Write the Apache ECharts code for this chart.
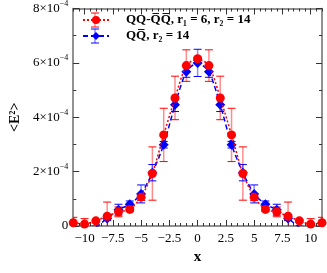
<!DOCTYPE html>
<html><head><meta charset="utf-8">
<script src="https://cdn.jsdelivr.net/npm/echarts@6/dist/echarts.min.js"></script>
<style>html,body{margin:0;padding:0;background:#fff}#c{width:327px;height:273px}</style>
</head><body><div id="c"></div>
<script>
// values are in units of 1e-4
const xs = [-11,-10,-9,-8,-7,-6,-5,-4,-3,-2,-1,0,1,2,3,4,5,6,7,8,9,10,11];
const redVals = [0.12,0.07,0.19,0.36,0.52,0.61,1.06,1.93,3.35,4.71,5.90,6.15,5.90,4.71,3.35,1.93,1.06,0.61,0.52,0.36,0.19,0.07,0.12];
const redErrs = [0.20,0.20,0.05,0.52,0.18,0.08,0.12,0.98,0.98,0.80,0.58,0.06,0.58,0.80,0.98,0.98,0.12,0.08,0.18,0.52,0.05,0.20,0.20];
const blueXs = [-9,-8,-7,-6,-5,-4,-3,-2,-1,0,1,2,3,4,5,6,7,8,9];
const blueVals = [-0.05,0.28,0.60,0.80,1.18,1.96,2.99,4.46,5.67,6.00,5.67,4.46,2.99,1.96,1.18,0.80,0.60,0.28,-0.05];
const blueErrs = [0.05,0.08,0.20,0.12,0.33,0.30,0.12,0.25,0.20,0.50,0.20,0.25,0.12,0.30,0.33,0.12,0.20,0.08,0.05];
const xMajorTicks = [-10,-7.5,-5,-2.5,0,2.5,5,7.5,10];
const yTicks = [0,2,4,6,8];
const expo = '−4';
const redName = 'QQ-Q\u0305Q\u0305, r\u2081 = 6, r\u2082 = 14';
const blueName = 'QQ\u0305, r\u2082 = 14';

const FONT = '"Liberation Serif","DejaVu Serif",serif';
const xMinor = [];
for (let v = -11; v <= 11.001; v += 0.5) xMinor.push(+v.toFixed(1));
const yMinor = [];
for (let v = 0; v <= 8; v += 1) yMinor.push(v);

const chart = echarts.init(document.getElementById('c'), null, {renderer:'canvas'});
const axisCol = '#8a8a8a';
function xAx(extra){ return Object.assign({
  type:'value', min:-11, max:11, gridIndex:0,
  axisLine:{show:true, onZero:false, lineStyle:{color:axisCol, width:1.5}},
  splitLine:{show:false}, axisLabel:{show:false}, axisTick:{show:false}
}, extra); }
function yAx(extra){ return Object.assign({
  type:'value', min:0, max:8, gridIndex:0,
  axisLine:{show:true, onZero:false, lineStyle:{color:axisCol, width:1.5}},
  splitLine:{show:false}, axisLabel:{show:false}, axisTick:{show:false}
}, extra); }

function errItem(colorStem, colorCap){
  return function(params, api){
    const x = api.value(0), lo = api.value(1), hi = api.value(2);
    const p1 = api.coord([x, hi]), p2 = api.coord([x, lo]);
    const w = 4;
    return {type:'group', children:[
      {type:'line', shape:{x1:p1[0], y1:p1[1], x2:p2[0], y2:p2[1]}, style:{stroke:colorStem, lineWidth:1.5}},
      {type:'line', shape:{x1:p1[0]-w, y1:p1[1], x2:p1[0]+w, y2:p1[1]}, style:{stroke:colorCap, lineWidth:1}},
      {type:'line', shape:{x1:p2[0]-w, y1:p2[1], x2:p2[0]+w, y2:p2[1]}, style:{stroke:colorCap, lineWidth:1}}
    ]};
  };
}

const redPts = xs.map((x,i)=>[x, redVals[i]]);
const bluePts = blueXs.map((x,i)=>[x, blueVals[i]]);
const redErrData = xs.map((x,i)=>[x, redVals[i]-redErrs[i], redVals[i]+redErrs[i]]);
const blueErrData = blueXs.map((x,i)=>[x, blueVals[i]-blueErrs[i], blueVals[i]+blueErrs[i]]);

const LX = 95, R1 = 20, R2 = 36;
const option = {
  animation:false,
  grid:{left:59, right:5, top:4, bottom:47, containLabel:false},
  xAxis:[
    xAx({position:'bottom', name:'x', nameLocation:'middle', nameGap:24,
      nameTextStyle:{fontFamily:FONT, fontWeight:'bold', fontSize:15, color:'#000'},
      axisLabel:{show:true, customValues:xMajorTicks, fontFamily:FONT, fontSize:13, color:'#000', margin:6,
        formatter:v=> String(v).replace('-', '−')},
      axisTick:{show:true, inside:true, length:6, customValues:xMajorTicks, lineStyle:{color:'#333'}}}),
    xAx({position:'bottom', axisTick:{show:true, inside:true, length:3, customValues:xMinor, lineStyle:{color:'#333'}}}),
    xAx({position:'top', axisTick:{show:true, inside:true, length:6, customValues:xMajorTicks, lineStyle:{color:'#333'}}}),
    xAx({position:'top', axisTick:{show:true, inside:true, length:3, customValues:xMinor, lineStyle:{color:'#333'}}})
  ],
  yAxis:[
    yAx({position:'left', name:'<E²>', nameLocation:'middle', nameGap:46,
      nameTextStyle:{fontFamily:FONT, fontWeight:'bold', fontSize:14, color:'#000'},
      axisLabel:{show:true, customValues:yTicks, margin:5, color:'#000',
        formatter:v=> v===0 ? '{a|0}' : '{a|'+v+'×10}{s|'+expo+'}',
        rich:{a:{fontFamily:FONT, fontSize:13, color:'#000'}, s:{fontFamily:FONT, fontSize:8, color:'#000', verticalAlign:'top', padding:[0,0,9,0]}}},
      axisTick:{show:true, inside:true, length:6, customValues:yTicks, lineStyle:{color:'#333'}}}),
    yAx({position:'left', axisTick:{show:true, inside:true, length:3, customValues:yMinor, lineStyle:{color:'#333'}}}),
    yAx({position:'right', axisTick:{show:true, inside:true, length:6, customValues:yTicks, lineStyle:{color:'#333'}}}),
    yAx({position:'right', axisTick:{show:true, inside:true, length:3, customValues:yMinor, lineStyle:{color:'#333'}}})
  ],
  legend:{
    orient:'vertical', left:82, top:12, itemWidth:26, itemHeight:10, itemGap:0, padding:0,
    data:[redName, blueName],
    textStyle:{fontFamily:FONT, fontWeight:'bold', fontSize:13, color:'#000', lineHeight:16, padding:[0,0,0,12]}
  },
  graphic:[
    {type:'line', shape:{x1:LX,y1:R1-7,x2:LX,y2:R1+7}, style:{stroke:'rgba(255,0,0,0.45)', lineWidth:1.5}, z:1},
    {type:'line', shape:{x1:LX-4,y1:R1-7,x2:LX+4,y2:R1-7}, style:{stroke:'#f00', lineWidth:1}},
    {type:'line', shape:{x1:LX-4,y1:R1+7,x2:LX+4,y2:R1+7}, style:{stroke:'#f00', lineWidth:1}},
    {type:'line', shape:{x1:LX,y1:R2-7,x2:LX,y2:R2+7}, style:{stroke:'rgba(0,0,255,0.45)', lineWidth:1.5}, z:1},
    {type:'line', shape:{x1:LX-4,y1:R2-7,x2:LX+4,y2:R2-7}, style:{stroke:'#00f', lineWidth:1}},
    {type:'line', shape:{x1:LX-4,y1:R2+7,x2:LX+4,y2:R2+7}, style:{stroke:'#00f', lineWidth:1}}
  ],
  series:[
    {type:'custom', name:'redErr', xAxisIndex:0, yAxisIndex:0, renderItem:errItem('rgba(255,0,0,0.45)','#f00'), data:redErrData, z:2, clip:true, silent:true},
    {type:'custom', name:'blueErr', xAxisIndex:0, yAxisIndex:0, renderItem:errItem('rgba(0,0,255,0.45)','#00f'), data:blueErrData, z:2, clip:true, silent:true},
    {type:'line', name:blueName, xAxisIndex:0, yAxisIndex:0, data:bluePts, symbol:'diamond', symbolSize:10,
      itemStyle:{color:'#00f'}, lineStyle:{color:'#00f', width:1.5, type:[5,3]}, smooth:0.25, clip:true, z:3},
    {type:'line', name:redName, xAxisIndex:0, yAxisIndex:0, data:redPts, symbol:'circle', symbolSize:9,
      itemStyle:{color:'#f00'}, lineStyle:{color:'#f00', width:1.5, type:[2,2]}, smooth:0.25, clip:true, z:4}
  ]
};
chart.setOption(option);
</script></body></html>
